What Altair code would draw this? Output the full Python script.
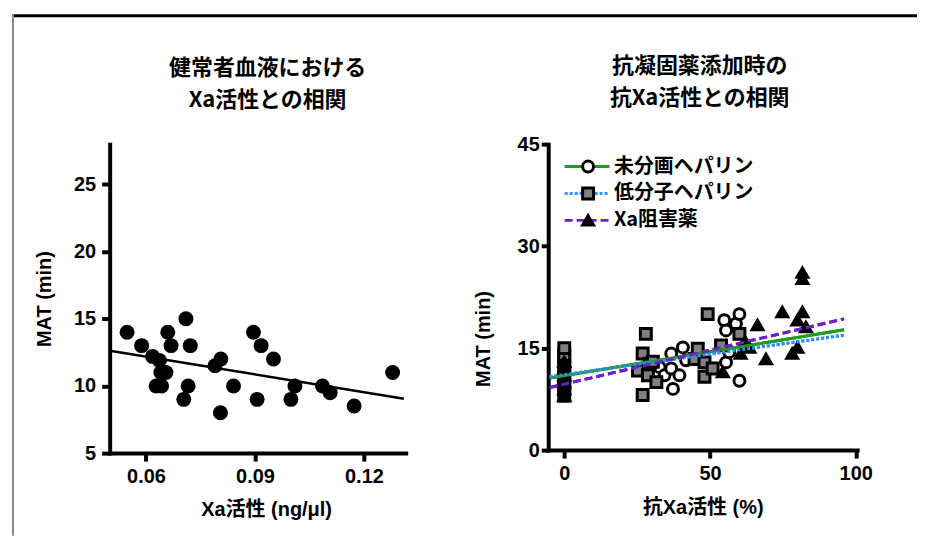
import altair as alt
import pandas as pd

# ---------------- left panel: healthy blood ----------------
xa_activity = [0.0548, 0.0588, 0.0618, 0.0637, 0.0660, 0.0669, 0.0710, 0.0722,
               0.0628, 0.0643, 0.0641, 0.0655, 0.0716, 0.0704, 0.0790, 0.0806,
               0.0805, 0.0841, 0.0896, 0.0917, 0.0951, 0.0906, 0.0999, 0.1010,
               0.1086, 0.1107, 0.1173, 0.1279]
mat_healthy = [14.0, 13.0, 12.2, 11.9, 14.0, 13.0, 15.0, 13.0,
               10.0, 10.0, 11.0, 11.0, 10.0, 9.0, 11.5, 12.0,
               8.0, 10.0, 14.0, 13.0, 12.0, 9.0, 9.0, 10.0,
               10.0, 9.5, 8.5, 11.0]
fit_left_x = [0.0505, 0.131]
fit_left_y = [12.6, 9.05]

# ---------------- right panel: anticoagulants ----------------
groups = ["未分画ヘパリン", "低分子ヘパリン", "Xa阻害薬"]

ufh_x = [0, 0, 0, 0, 32.7, 34.4, 36.7, 36.7, 37.3, 39.5, 40.7, 41.8,
         54.9, 55.5, 55.5, 56.6, 58.9, 60.1, 60.1]
ufh_y = [9, 11, 13, 14.5, 12.2, 11.0, 14.2, 12.0, 9.0, 11.0, 15.1, 13.2,
         19.1, 17.6, 12.9, 14.4, 18.6, 20.0, 10.2]

lmwh_x = [0, 0, 0, 0, 0, 0, 0, 0, 25.3, 26.9, 26.9, 28.0, 28.7, 29.3, 30.4, 31.6,
          44.7, 45.8, 48.1, 48.1, 49.2, 50.9, 53.8, 60.1]
lmwh_y = [8, 9, 10, 11, 12, 13, 14, 15, 11.7, 14.2, 8.1, 17.1, 11.0, 12.7, 13.0, 10.0,
          13.4, 14.9, 12.9, 10.8, 20.0, 12.0, 15.4, 17.1]

xai_x = [0, 0, 0, 0, 0, 0, 54.4, 60.5, 62.0, 63.5, 66.3, 69.2, 74.8, 78.2,
         80.0, 80.0, 81.7, 81.7, 81.7, 82.9]
xai_y = [8, 9, 10, 11, 12, 13, 11.5, 14.2, 16.0, 15.1, 18.4, 13.4, 20.3, 14.2,
         15.1, 19.1, 20.3, 25.2, 26.1, 18.1]

fit_x = [-5, 96]
fit_ufh = [10.6, 17.7]
fit_lmwh = [10.8, 16.9]
fit_xai = [9.2, 19.3]

line_colors = ["#1E9E1E", "#2F8FFF", "#6A1FD0"]
line_dashes = [[1, 0], [3, 2], [8, 4]]
marker_shapes = ["circle", "square", "triangle-up"]
marker_fills = ["white", "#808080", "black"]
marker_strokes = ["black", "black", "black"]

# ---------------- tables ----------------
left_pts = pd.DataFrame({"x": xa_activity, "y": mat_healthy})
left_fit = pd.DataFrame({"x": fit_left_x, "y": fit_left_y})

pts_rows = []
for g, xs, ys in [(groups[0], ufh_x, ufh_y), (groups[1], lmwh_x, lmwh_y), (groups[2], xai_x, xai_y)]:
    for a, b in zip(xs, ys):
        pts_rows.append({"drug": g, "x": a, "y": b})
right_pts = pd.DataFrame(pts_rows)

fit_rows = []
for g, ys in [(groups[0], fit_ufh), (groups[1], fit_lmwh), (groups[2], fit_xai)]:
    for a, b in zip(fit_x, ys):
        fit_rows.append({"series": g, "x": a, "y": b})
right_fit = pd.DataFrame(fit_rows)

LAT = "Liberation Sans, Noto Sans CJK JP"
CJK = "Noto Sans CJK JP"
FS = 20

# layout constants (pixels)
PLOT_TOP = 128.7          # distance from the frame's top line to the plot areas
RIGHT_OFFSET = 440        # right plot's left edge relative to left plot's left edge


def axis(values, title, fmt=None, label_pad=6, tick=8, title_pad=12, **kw):
    args = dict(values=values, title=title, grid=False,
                domainColor="black", domainWidth=4, domainCap="square",
                tickColor="black", tickWidth=4, tickSize=tick,
                labelFont=LAT, labelFontSize=FS, labelFontWeight="bold", labelColor="black",
                labelPadding=label_pad, labelFlush=False, labelOverlap=False,
                titleFont=LAT, titleFontSize=FS, titleFontWeight="bold", titleColor="black",
                titlePadding=title_pad)
    if fmt:
        args["format"] = fmt
    args.update(kw)
    return alt.Axis(**args)


# ---------------- left chart ----------------
lx_axis = axis([0.06, 0.09, 0.12], "Xa活性 (ng/μl)", fmt=".2f", label_pad=5, title_pad=14, titleX=157)
ly_axis = axis([5, 10, 15, 20, 25], "MAT (min)", label_pad=6, title_pad=19)
lx = alt.X("x:Q", scale=alt.Scale(domain=[0.05, 0.1315], nice=False, zero=False), axis=lx_axis)
ly = alt.Y("y:Q", scale=alt.Scale(domain=[5, 28], nice=False, zero=False), axis=ly_axis)

left_points = alt.Chart(left_pts).mark_circle(size=225, color="black", opacity=1).encode(x=lx, y=ly)
left_line = alt.Chart(left_fit).mark_line(color="black", strokeWidth=2.5).encode(x=lx, y=ly)

left = alt.layer(left_points, left_line).properties(
    width=297, height=310,
    title=alt.TitleParams(text=["健常者血液における", "Xa活性との相関"], font=CJK, fontSize=22,
                          fontWeight="bold", lineHeight=32, color="black", anchor="middle",
                          offset=32, dx=10))

# ---------------- right chart ----------------
rx_axis = axis([0, 50, 100], "抗Xa活性 (%)", label_pad=5, title_pad=15)
ry_axis = axis([0, 15, 30, 45], "MAT (min)", label_pad=2, tick=7, title_pad=24, titleY=195)
rx = alt.X("x:Q", scale=alt.Scale(domain=[-5.5, 100.5], nice=False, zero=False), axis=rx_axis)
ry = alt.Y("y:Q", scale=alt.Scale(domain=[0, 45], nice=False, zero=False), axis=ry_axis)

LEG_Y = PLOT_TOP + 10
line_legend = alt.Legend(orient="none", legendX=RIGHT_OFFSET + 15, legendY=LEG_Y, title=None,
                         symbolType="stroke", symbolSize=2025, symbolStrokeWidth=3,
                         labelFont=CJK, labelFontSize=20, labelFontWeight="bold",
                         labelColor="black", labelOffset=3, labelLimit=300,
                         clipHeight=25, rowPadding=2, padding=0)
pt_legend = alt.Legend(orient="none", legendX=RIGHT_OFFSET + 30, legendY=LEG_Y, title=None,
                       symbolSize=120, symbolStrokeWidth=3,
                       labelFont=CJK, labelFontSize=20, labelExpr="''",
                       labelOffset=5, labelLimit=300,
                       clipHeight=25, rowPadding=2, padding=0)

fit_enc = dict(
    x=rx, y=ry,
    color=alt.Color("series:N", scale=alt.Scale(domain=groups, range=line_colors), legend=line_legend),
    strokeDash=alt.StrokeDash("series:N", scale=alt.Scale(domain=groups, range=line_dashes),
                              legend=line_legend),
)
fit_under = alt.Chart(right_fit).mark_line(strokeWidth=3).encode(**fit_enc)
fit_over = alt.Chart(right_fit).mark_line(strokeWidth=3).encode(**fit_enc)

right_points = alt.Chart(right_pts).mark_point(
    filled=True, strokeWidth=3, size=120, opacity=1).encode(
    x=rx, y=ry,
    shape=alt.Shape("drug:N", sort="descending", scale=alt.Scale(range=marker_shapes), legend=pt_legend),
    fill=alt.Fill("drug:N", sort="descending", scale=alt.Scale(range=marker_fills), legend=pt_legend),
    stroke=alt.Stroke("drug:N", sort="descending", scale=alt.Scale(range=marker_strokes), legend=pt_legend),
)

right = alt.layer(fit_under, right_points, fit_over).properties(
    width=310, height=307,
    title=alt.TitleParams(text=["抗凝固薬添加時の", "抗Xa活性との相関"], font=CJK, fontSize=22,
                          fontWeight="bold", lineHeight=32, color="black", anchor="middle",
                          offset=24, dx=-3))

# ---------------- slide frame (top and left border lines) ----------------
frame_df = pd.DataFrame({"k": [0]})
frame_top = alt.Chart(frame_df).mark_rule(color="black", strokeWidth=3).encode(
    x=alt.value(-98), x2=alt.value(810), y=alt.value(0))
frame_left = alt.Chart(frame_df).mark_rule(color="#8a8a8a", strokeWidth=2).encode(
    x=alt.value(-97), y=alt.value(-1.5), y2=alt.value(521.5))
frame = alt.layer(frame_top, frame_left).properties(width=297, height=1)

panels = alt.hconcat(left, right, spacing=RIGHT_OFFSET - 297, bounds="flush")

chart = alt.vconcat(frame, panels, spacing=PLOT_TOP - 1, bounds="flush").properties(
    padding={"left": 2, "top": 4, "right": 0, "bottom": 0},
    background="white",
).configure_view(strokeWidth=0)

chart.save("out.html", embed_options={"renderer": "svg", "actions": False})
